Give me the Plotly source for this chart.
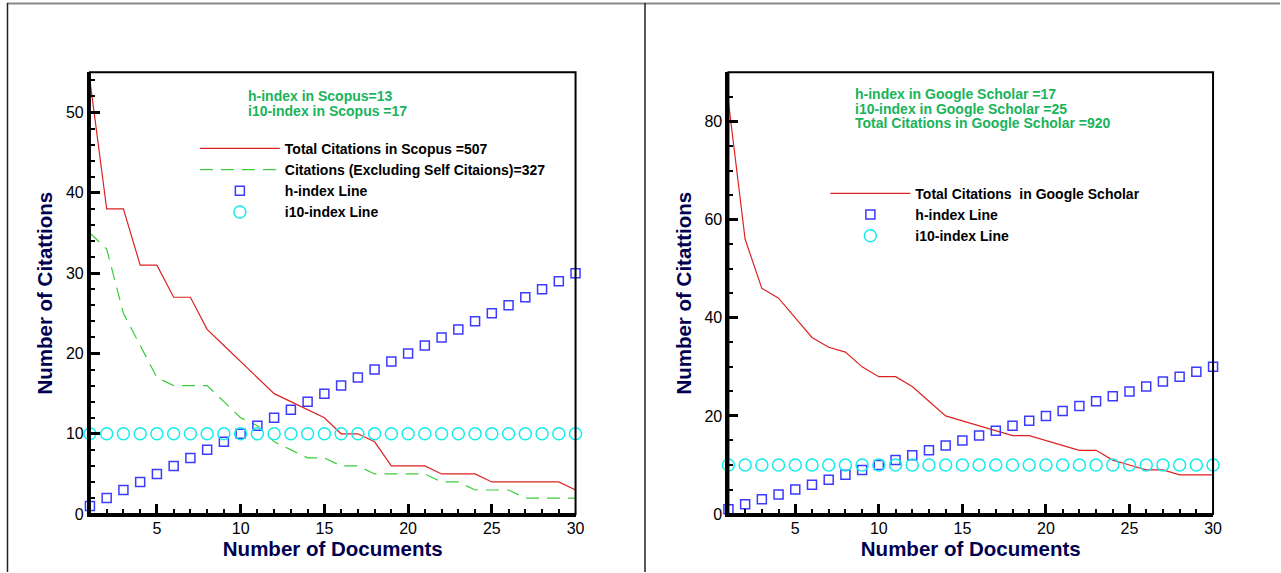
import plotly.graph_objects as go

# ---------------- data ----------------
docs = list(range(1, 31))

scopus_total = [54, 38, 38, 31, 31, 27, 27, 23, 21, 19, 17, 15, 14, 13, 12,
                10, 10, 9, 6, 6, 6, 5, 5, 5, 4, 4, 4, 4, 4, 3]
scopus_excl_self = [35, 33, 25, 21, 17, 16, 16, 16, 14, 12, 11, 9, 8, 7, 7,
                    6, 6, 5, 5, 5, 5, 4, 4, 3, 3, 3, 2, 2, 2, 2]
h_index_line = [1, 2, 3, 4, 5, 6, 7, 8, 9, 10, 11, 12, 13, 14, 15,
                16, 17, 18, 19, 20, 21, 22, 23, 24, 25, 26, 27, 28, 29, 30]
i10_index_line = [10] * 30

scholar_total = [84, 56, 46, 44, 40, 36, 34, 33, 30, 28, 28, 26, 23, 20, 19,
                 18, 17, 16, 16, 15, 14, 13, 13, 11, 10, 9, 9, 8, 8, 8]

scopus_notes = ["h-index in Scopus=13", "i10-index in Scopus =17"]
scholar_notes = ["h-index in Google Scholar =17", "i10-index in Google Scholar =25",
                 "Total Citations in Google Scholar =920"]

left_y_ticks = [0, 10, 20, 30, 40, 50]
right_y_ticks = [0, 20, 40, 60, 80]
x_ticks = [5, 10, 15, 20, 25, 30]

# ---------------- styles ----------------
RW, RH = 1281, 573          # reference picture size (positions below are given in it)
W, H = 1289, 581            # page size actually captured
RED = "#dd2222"
GREEN_DASH = "#3ccc3c"
BLUE = "#3b3bff"
CYAN = "#14ecec"
NOTE_GREEN = "#19b35a"
NAVY = "#00004f"
FONT = "Liberation Sans, Arial, sans-serif"

fig = go.Figure()

sq = dict(symbol="square-open", size=9, color=BLUE, line=dict(width=1.5, color=BLUE))
circ = dict(symbol="circle-open", size=12, color=CYAN, line=dict(width=1.5, color=CYAN))

# left chart
fig.add_trace(go.Scatter(x=docs, y=scopus_total, mode="lines", name="Total Citations in Scopus =507",
                         line=dict(color=RED, width=1.2), xaxis="x", yaxis="y", legend="legend", cliponaxis=False))
fig.add_trace(go.Scatter(x=docs, y=scopus_excl_self, mode="lines",
                         name="Citations (Excluding Self Citaions)=327",
                         line=dict(color=GREEN_DASH, width=1.2, dash="13px,8px"), xaxis="x", yaxis="y", legend="legend", cliponaxis=False))
fig.add_trace(go.Scatter(x=docs, y=h_index_line, mode="markers", name="h-index Line", marker=sq,
                         xaxis="x", yaxis="y", legend="legend", cliponaxis=False))
fig.add_trace(go.Scatter(x=docs, y=i10_index_line, mode="markers", name="i10-index Line", marker=circ,
                         xaxis="x", yaxis="y", legend="legend", cliponaxis=False))

# right chart
fig.add_trace(go.Scatter(x=docs, y=scholar_total, mode="lines", name="Total Citations  in Google Scholar",
                         line=dict(color=RED, width=1.2), xaxis="x2", yaxis="y2", legend="legend2", cliponaxis=False))
fig.add_trace(go.Scatter(x=docs, y=h_index_line, mode="markers", name="h-index Line", marker=sq,
                         xaxis="x2", yaxis="y2", legend="legend2", cliponaxis=False))
fig.add_trace(go.Scatter(x=docs, y=i10_index_line, mode="markers", name="i10-index Line", marker=circ,
                         xaxis="x2", yaxis="y2", legend="legend2", cliponaxis=False))

ydom = [(RH - 515) / RH, (RH - 72.5) / RH]
left_dom = [90 / RW, 576 / RW]
right_dom = [729 / RW, 1214 / RW]

tickfont = dict(family=FONT, size=16, color="black")
titlefont = dict(family=FONT, size=20.5, color=NAVY, weight="bold")


def xaxis(dom, anchor):
    return dict(domain=dom, anchor=anchor, range=[1, 30], tickvals=x_ticks, ticks="inside",
                ticklen=10, tickwidth=2.5, tickcolor="black", showgrid=False, zeroline=False,
                showline=True, linecolor="black", linewidth=3, tickfont=tickfont, ticklabelstandoff=-2,
                minor=dict(dtick=1, tick0=0, ticks="inside", ticklen=5, tickwidth=1.5, tickcolor="black", showgrid=False),
                title=dict(text="Number of Documents", font=titlefont, standoff=3))


def yaxis(dom, anchor, rng, tv, minor_dtick):
    return dict(domain=dom, anchor=anchor, range=rng, tickvals=tv, ticks="inside",
                ticklen=10, tickwidth=2.5, tickcolor="black", showgrid=False, zeroline=False,
                showline=True, linecolor="black", linewidth=3, tickfont=tickfont,
                minor=dict(dtick=minor_dtick, tick0=0, ticks="inside", ticklen=5, tickwidth=1.5, tickcolor="black", showgrid=False),
                title=dict(text="Number of Citattions", font=titlefont, standoff=8))


legend_common = dict(font=dict(family=FONT, size=14, color="black", weight="bold"),
                     bgcolor="rgba(0,0,0,0)", borderwidth=0, itemwidth=80,
                     xanchor="left", yanchor="top", tracegroupgap=0, itemclick=False)

note_font = dict(family=FONT, size=14, color=NOTE_GREEN, weight="bold")
annotations = []
for i, t in enumerate(scopus_notes):
    annotations.append(dict(text=t, x=246 / RW, y=1 - (96.5 + 14.3 * i) / RH, xref="paper", yref="paper",
                            xanchor="left", yanchor="middle", showarrow=False, font=note_font))
for i, t in enumerate(scholar_notes):
    annotations.append(dict(text=t, x=854 / RW, y=1 - (94.5 + 14.2 * i) / RH, xref="paper", yref="paper",
                            xanchor="left", yanchor="middle", showarrow=False, font=note_font))

shapes = [
    # page frame lines
    dict(type="line", xref="paper", yref="paper", x0=7 / RW, x1=1, y0=1 - 3.5 / RH, y1=1 - 3.5 / RH,
         line=dict(color="#888888", width=2)),
    dict(type="line", xref="paper", yref="paper", x0=7.5 / RW, x1=7.5 / RW, y0=0, y1=1 - 3 / RH,
         line=dict(color="#222222", width=1.5)),
    dict(type="line", xref="paper", yref="paper", x0=645.5 / RW, x1=645.5 / RW, y0=0, y1=1 - 3 / RH,
         line=dict(color="#222222", width=1.5)),
    # top/right frame of plots
    dict(type="rect", xref="x domain", yref="y domain", x0=0, x1=1, y0=0, y1=1,
         line=dict(color="black", width=2), layer="above"),
    dict(type="rect", xref="x2 domain", yref="y2 domain", x0=0, x1=1, y0=0, y1=1,
         line=dict(color="black", width=2), layer="above"),
]

# initial size leaves room for the default 8px body margin; the post script
# removes that margin and sizes the figure to the full page
fig.update_layout(
    width=W - 16, height=H - 16, autosize=False,
    margin=dict(l=0, r=0, t=0, b=0),
    paper_bgcolor="white", plot_bgcolor="white",
    font=dict(family=FONT),
    xaxis=xaxis(left_dom, "y"),
    yaxis=yaxis(ydom, "x", [0, 55], left_y_ticks, 2),
    xaxis2=xaxis(right_dom, "y2"),
    yaxis2=yaxis(ydom, "x2", [0, 90], right_y_ticks, 5),
    legend=dict(x=195 / RW, y=1 - 133 / RH, **legend_common),
    legend2=dict(x=826 / RW, y=1 - 178 / RH, **legend_common),
    annotations=annotations,
    shapes=shapes,
    showlegend=True,
)

post = ("document.body.style.margin='0';document.body.style.overflow='hidden';"
        "var gd=document.getElementById('{plot_id}');"
        "gd.style.width='%dpx';gd.style.height='%dpx';"
        "Plotly.relayout(gd,{width:%d,height:%d});" % (W, H, W, H))

fig.write_html("out.html", config={"displayModeBar": False}, post_script=post)
